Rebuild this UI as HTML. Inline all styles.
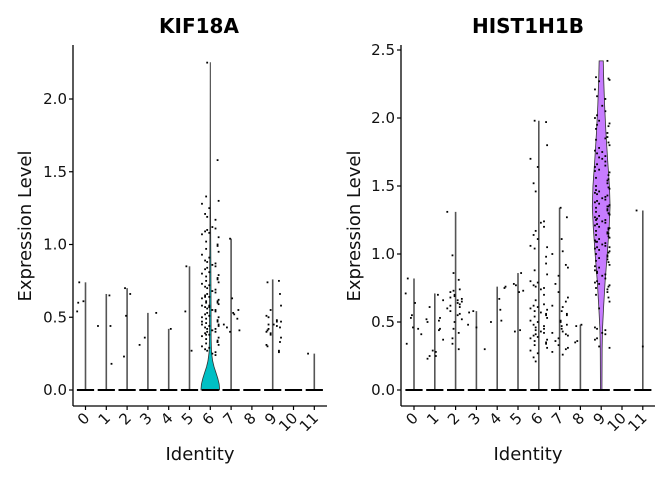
<!DOCTYPE html>
<html><head><meta charset="utf-8">
<style>
body{margin:0;background:#fff;}
svg{display:block;font-family:"DejaVu Sans","Liberation Sans",sans-serif;}
</style></head>
<body>
<svg id="chart" width="672" height="480" viewBox="0 0 672 480" xmlns="http://www.w3.org/2000/svg"></svg>
<script>
const categories = ["0","1","2","3","4","5","6","7","8","9","10","11"];
// KIF18A
const kifMax = [0.74,0.66,0.70,0.53,0.42,0.85,2.25,1.04,0,0.76,0,0.25];
const kifPoints = [
 [0.54,0.61,0.60,0.74],
 [0.65,0.44,0.44,0.18],
 [0.23,0.66,0.70,0.51],
 [0.53,0.36,0.31],
 [0.42],
 [0.54,0.27,0.85],
 [1.58,1.33,1.30,1.28,1.25,1.21,1.19,1.17,1.12,1.11,1.10,1.09,1.08,1.07,1.05,1.02,1.00,0.99,0.97,0.95,0.93,0.91,0.89,0.88,0.87,0.86,0.85,0.84,0.83,0.81,0.80,0.79,0.78,0.77,0.76,0.75,0.74,0.73,0.72,0.71,0.70,0.69,0.68,0.67,0.66,0.65,0.64,0.63,0.62,0.61,0.61,0.60,0.60,0.59,0.58,0.58,0.57,0.56,0.55,0.55,0.54,0.53,0.52,0.51,0.50,0.50,0.49,0.48,0.47,0.46,0.45,0.45,0.44,0.43,0.42,0.42,0.41,0.40,0.40,0.39,0.38,0.37,0.36,0.35,0.34,0.33,0.32,0.31,0.30,0.29,0.28,0.27,0.26,0.25,0.24,2.25,0.64,0.57,0.47,0.44,0.38,0.33],
 [0.63,0.55,0.53,0.52,0.45,0.49,0.41,0.40,0.43,1.04],
 [],
 [0.75,0.74,0.66,0.58,0.55,0.51,0.50,0.47,0.45,0.44,0.42,0.40,0.38,0.36,0.33,0.30,0.27,0.26,0.41,0.43,0.47,0.39,0.31,0.45,0.48],
 [],
 [0.25]
];
const kifViolin6 = [[0,1],[0.04,0.95],[0.08,0.8],[0.12,0.6],[0.16,0.4],[0.2,0.25],[0.26,0.13],[0.35,0.09],[0.6,0.08],[0.9,0.06],[1.1,0.04],[1.35,0.02],[2.25,0.01]];
// HIST1H1B
const histMax = [0.82,0.71,1.31,0.58,0.76,0.86,1.98,1.34,0.48,2.42,0,1.32];
const histPoints = [
 [0.71,0.55,0.34,0.82,0.64,0.53,0.46,0.41,0.45],
 [0.70,0.52,0.44,0.45,0.25,0.37,0.50,0.28,0.29,0.25,0.23,0.66,0.61,0.53,0.51],
 [0.99,0.81,0.73,0.70,0.67,0.66,0.63,0.62,0.60,0.58,0.56,0.55,0.52,0.50,0.45,0.42,0.38,0.34,0.30,0.86,0.69,0.65,0.64,0.61,0.72,1.31,0.68,0.74],
 [0.30,0.58,0.48,0.57,0.46],
 [0.67,0.76,0.59,0.51,0.50,0.75],
 [0.78,0.44,0.43,0.77,0.73,0.72,0.86],
 [1.97,1.98,1.80,1.70,1.64,1.52,1.46,1.24,1.23,1.20,1.17,1.14,1.11,1.06,1.05,1.04,0.98,0.93,0.88,0.85,0.80,0.79,0.77,0.76,0.75,0.74,0.70,0.66,0.62,0.61,0.60,0.59,0.58,0.56,0.55,0.54,0.53,0.51,0.50,0.48,0.46,0.45,0.43,0.42,0.41,0.40,0.39,0.38,0.37,0.36,0.35,0.34,0.33,0.31,0.29,0.27,0.24,0.21,0.63,0.57,0.47,0.44],
 [1.34,1.27,1.11,1.02,1.00,0.92,0.90,0.84,0.78,0.72,0.68,0.65,0.62,0.61,0.58,0.55,0.51,0.50,0.48,0.45,0.43,0.42,0.41,0.40,0.38,0.36,0.33,0.31,0.30,0.28,0.26,0.47,0.56],
 [0.35,0.48,0.47,0.36],
 [2.42,2.30,2.29,2.28,2.27,2.21,2.16,2.14,2.09,2.05,2.02,2.00,1.98,1.96,1.94,1.92,1.89,1.86,1.84,1.82,1.80,1.78,1.76,1.74,1.72,1.70,1.68,1.66,1.64,1.62,1.60,1.58,1.56,1.54,1.52,1.50,1.49,1.48,1.46,1.45,1.44,1.42,1.41,1.40,1.39,1.38,1.37,1.36,1.35,1.34,1.33,1.32,1.31,1.30,1.29,1.28,1.27,1.26,1.25,1.24,1.23,1.22,1.21,1.20,1.19,1.18,1.17,1.16,1.15,1.14,1.13,1.12,1.11,1.10,1.09,1.08,1.07,1.06,1.05,1.04,1.03,1.02,1.01,1.00,0.98,0.96,0.95,0.94,0.92,0.90,0.88,0.86,0.85,0.84,0.82,0.80,0.79,0.78,0.77,0.76,0.75,0.74,0.72,0.70,0.68,0.65,0.60,0.46,0.45,0.44,0.42,0.41,0.38,0.37,0.32,0.31,1.55,1.47,1.43,1.35,1.25,1.15,1.05,0.97,0.91,0.87,1.65,1.75,1.85,1.95,1.61,1.71,1.29,1.19,1.09,0.99],
 [],
 [1.32,0.32]
];
const histViolin9 = [[0,0.08],[0.3,0.1],[0.45,0.14],[0.6,0.25],[0.8,0.42],[1.0,0.65],[1.2,0.85],[1.35,0.95],[1.5,0.88],[1.7,0.68],[1.9,0.5],[2.1,0.36],[2.3,0.26],[2.42,0.22]];
const kifTicks = [0,0.5,1.0,1.5,2.0];
const histTicks = [0,0.5,1.0,1.5,2.0,2.5];

const NS = "http://www.w3.org/2000/svg";
const svg = document.getElementById('chart');
function mk(tag, attrs, parent){
  const e = document.createElementNS(NS, tag);
  for (const k in attrs) e.setAttribute(k, attrs[k]);
  (parent||svg).appendChild(e);
  return e;
}

function panel(opt){
  const g = mk('g', {});
  
  
  const x0 = opt.axisX, bottom = 406, top = 45;
  const y = v => opt.zeroY - (v) * opt.scale;
  const step = 20.8;
  const xc = i => opt.firstX + i * step;
  const hw = step * 0.45;

  categories.forEach((c, i) => {
    const vg = mk('g', {}, g);
    
    
    if (opt.special === i) {
      const prof = opt.profile;
      let d = '';
      prof.forEach((p, k) => { d += (k ? 'L' : 'M') + (xc(i) + p[1]*hw).toFixed(2) + ',' + y(p[0]).toFixed(2); });
      for (let k = prof.length - 1; k >= 0; k--) d += 'L' + (xc(i) - prof[k][1]*hw).toFixed(2) + ',' + y(prof[k][0]).toFixed(2);
      d += 'Z';
      mk('path', {d: d, fill: opt.color, stroke: '#333', 'stroke-width': 0.8}, vg);
    } else {
      if (opt.max[i] > 0) mk('line', {x1: xc(i), x2: xc(i), y1: y(0), y2: y(opt.max[i]), stroke: '#555', 'stroke-width': 1.6}, vg);
    }
    const z = mk('line', {x1: xc(i) - hw * 0.92, x2: xc(i) + hw * 0.92, y1: y(0), y2: y(0), stroke: '#000', 'stroke-width': 2}, vg);
    
    
    opt.points[i].forEach((v, k) => {
      const off = (((k * 37 + i * 11 + k*k*3) % 17) / 16 - 0.5) * 2 * 0.4 * step;
      const p = mk('rect', {x: xc(i) + off - 0.9, y: y(v) - 0.9, width: 1.8, height: 1.8, fill: '#000'}, vg);
      
      
    });
  });

  const ya = mk('line', {x1: x0, x2: x0, y1: top, y2: bottom, stroke: '#000', 'stroke-width': 1.3}, g);
  
  
  const xa = mk('line', {x1: x0, x2: opt.axisEnd, y1: bottom, y2: bottom, stroke: '#000', 'stroke-width': 1.3}, g);
  
  
  opt.ticks.forEach(t => {
    mk('line', {x1: x0 - 4, x2: x0, y1: y(t), y2: y(t), stroke: '#000', 'stroke-width': 1.2}, g);
    const tx = mk('text', {x: x0 - 6, y: y(t) + 5, 'text-anchor': 'end', 'font-size': 15, fill: '#111'}, g);
    tx.textContent = t.toFixed(1);
    
    
  });
  categories.forEach((c, i) => {
    mk('line', {x1: xc(i), x2: xc(i), y1: bottom, y2: bottom + 4, stroke: '#000', 'stroke-width': 1.2}, g);
    const tx = mk('text', {x: 0, y: 0, 'text-anchor': 'end', 'font-size': 15, fill: '#111',
      transform: 'translate(' + (xc(i) + 5) + ',' + (bottom + 13) + ') rotate(-45)'}, g);
    tx.textContent = c;
    
    
  });
  const cx = (x0 + opt.axisEnd) / 2;
  const ti = mk('text', {x: opt.titleX, y: 33, 'text-anchor': 'middle', 'font-size': 20, 'font-weight': 'bold', fill: '#000'}, g);
  ti.textContent = opt.title;
  
  
  const xt = mk('text', {x: cx, y: 460, 'text-anchor': 'middle', 'font-size': 18, fill: '#111'}, g);
  xt.textContent = 'Identity';
  
  
  const yt = mk('text', {x: 0, y: 0, 'text-anchor': 'middle', 'font-size': 18, fill: '#111',
    transform: 'translate(' + opt.yTitleX + ',226) rotate(-90)'}, g);
  yt.textContent = 'Expression Level';
  
  
}

panel({name: 'panel-kif18a', title: 'KIF18A', axisX: 73, axisEnd: 327, zeroY: 390, scale: 145.5,
  firstX: 85.5, max: kifMax, points: kifPoints, special: 6, profile: kifViolin6, color: '#00BFC4',
  ticks: kifTicks, titleX: 199, yTitleX: 31});
panel({name: 'panel-hist1h1b', title: 'HIST1H1B', axisX: 401, axisEnd: 655, zeroY: 390, scale: 136,
  firstX: 414, max: histMax, points: histPoints, special: 9, profile: histViolin9, color: '#C77CFF',
  ticks: histTicks, titleX: 528, yTitleX: 360});
</script>
</body></html>
